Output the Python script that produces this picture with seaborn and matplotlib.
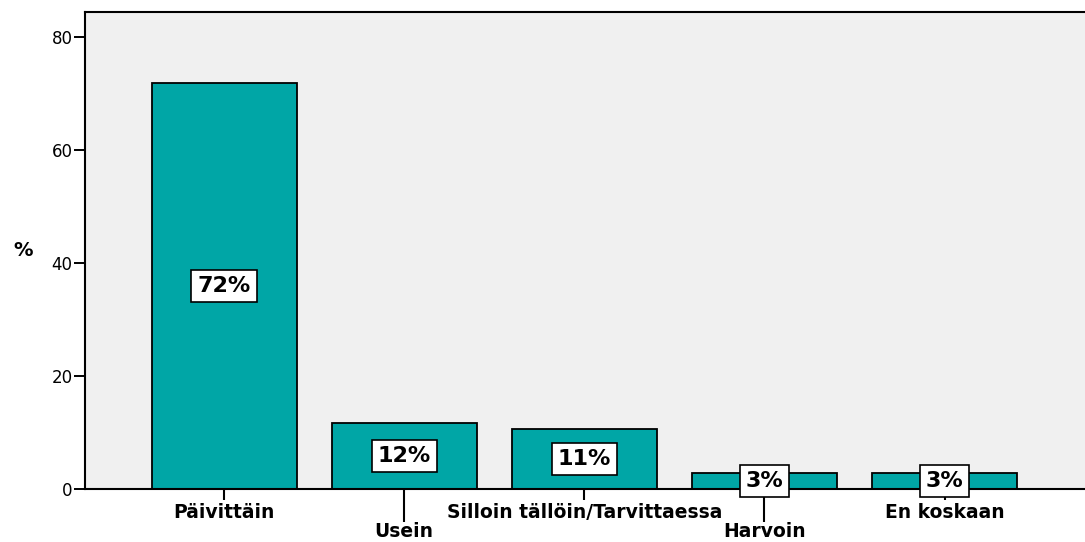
import numpy as np
import matplotlib.pyplot as plt
from matplotlib.ticker import FixedLocator, FixedFormatter
import pandas as pd
import seaborn as sns

# valeurs
categories = ["Päivittäin", "Usein", "Silloin tällöin/Tarvittaessa", "Harvoin", "En koskaan"]
percent = [71.9, 11.7, 10.7, 2.9, 2.9]
labels = ["72%", "12%", "11%", "3%", "3%"]

df = pd.DataFrame({"cat": categories, "pct": percent})

sns.set_style("white")
plt.rcParams['font.family'] = ['DejaVu Sans']
plt.rcParams['text.color'] = 'black'
plt.rcParams['axes.labelcolor'] = 'black'
plt.rcParams['xtick.color'] = 'black'
plt.rcParams['ytick.color'] = 'black'

fig = plt.figure(figsize=(10.85, 5.42), dpi=100)
ax = fig.add_axes([0.0783, 0.0978, 0.9217, 0.880])
ax.set_facecolor("#F0F0F0")

sns.barplot(data=df, x="cat", y="pct", color="#00A6A6", saturation=1,
            width=0.805, edgecolor="black", linewidth=1.3, ax=ax)

for i, (v, lab) in enumerate(zip(percent, labels)):
    ax.text(i, v / 2, lab, ha="center", va="center", fontsize=16, fontweight="bold",
            bbox=dict(facecolor="white", edgecolor="black", linewidth=1.2, boxstyle="square,pad=0.27"))

ax.set_xlim(-0.772, 4.78)
ax.set_ylim(0, 84.4)
ax.set_yticks([0, 20, 40, 60, 80])
ax.tick_params(axis="y", labelsize=12, length=8, width=1.4, direction="out", left=True, pad=1)
ax.set_xlabel("")
ax.set_ylabel("%", rotation=0, fontsize=14, fontweight="bold", labelpad=20, va="center")

# etiquettes en escalier comme SPSS : positions paires en majeur, impaires en mineur
pos = list(range(len(categories)))
ax.xaxis.set_major_locator(FixedLocator(pos[0::2]))
ax.xaxis.set_major_formatter(FixedFormatter(categories[0::2]))
ax.xaxis.set_minor_locator(FixedLocator(pos[1::2]))
ax.xaxis.set_minor_formatter(FixedFormatter(categories[1::2]))
ax.tick_params(axis="x", which="major", bottom=True, length=8, width=1.5, pad=2,
               labelsize=13.5, direction="out")
ax.tick_params(axis="x", which="minor", bottom=True, length=24, width=1.5, pad=0,
               labelsize=13.5, direction="out")
for t in ax.get_xticklabels(which="both"):
    t.set_fontweight("bold")

for s in ["left", "bottom", "top"]:
    ax.spines[s].set_color("black")
    ax.spines[s].set_linewidth(1.5)
ax.spines["right"].set_visible(False)

plt.savefig("out.png", dpi=100)
